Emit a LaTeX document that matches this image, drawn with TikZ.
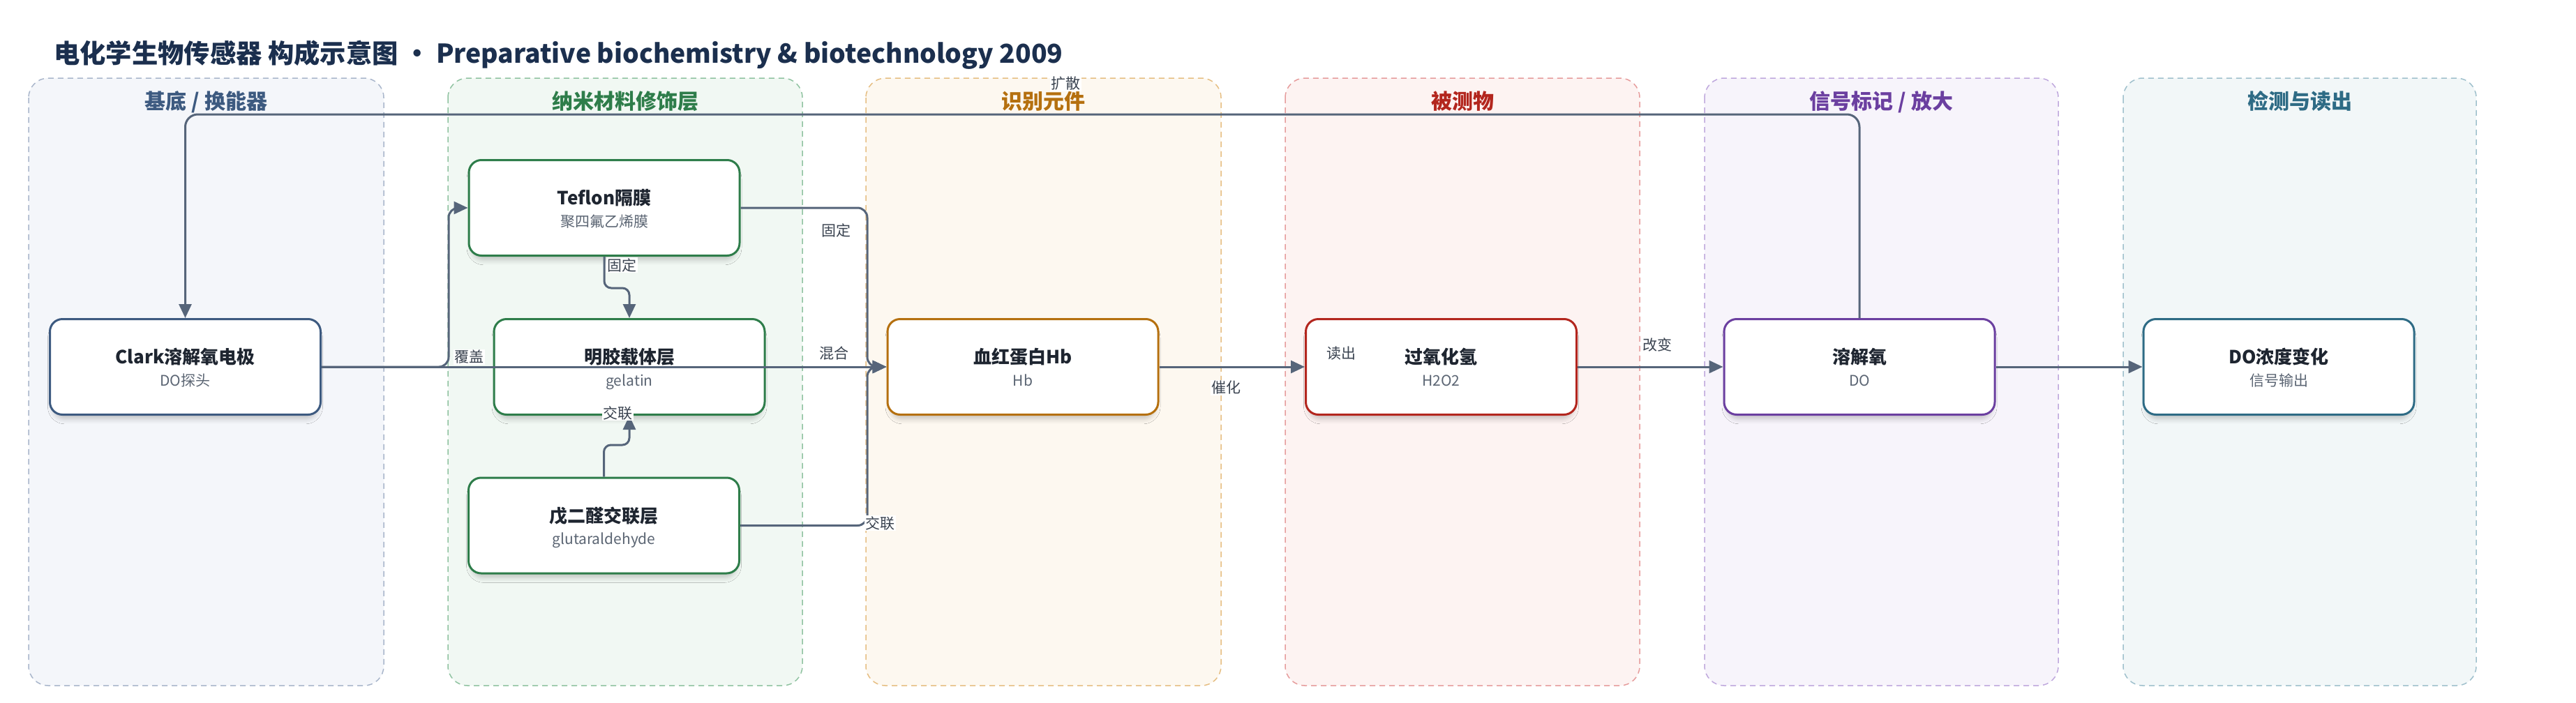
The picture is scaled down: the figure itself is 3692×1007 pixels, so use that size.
\documentclass[tikz,border=0pt]{standalone}
\usepackage{fontspec}
\setmainfont{Noto Sans CJK SC}
\usetikzlibrary{arrows.meta,shadows.blur,calc}
\definecolor{cTitle}{HTML}{1B2F4E}
\definecolor{cEdge}{HTML}{56657A}
\definecolor{cLbl}{HTML}{3A4350}
\definecolor{cNT}{HTML}{1E2530}
\definecolor{cNS}{HTML}{5B6573}
\definecolor{fA}{HTML}{F4F6FA}\definecolor{dA}{HTML}{A9B6CB}\definecolor{tA}{HTML}{3D5A80}
\definecolor{fB}{HTML}{F1F8F3}\definecolor{dB}{HTML}{90C3A1}\definecolor{tB}{HTML}{2E7D4A}
\definecolor{fC}{HTML}{FDF8F0}\definecolor{dC}{HTML}{E6BE82}\definecolor{tC}{HTML}{B5700F}
\definecolor{fD}{HTML}{FDF3F2}\definecolor{dD}{HTML}{E69C9C}\definecolor{tD}{HTML}{B3261E}
\definecolor{fE}{HTML}{F7F4FB}\definecolor{dE}{HTML}{BFA8DD}\definecolor{tE}{HTML}{6B3FA0}
\definecolor{fF}{HTML}{F2F7F8}\definecolor{dF}{HTML}{9FC0CC}\definecolor{tF}{HTML}{2E6B85}
\begin{document}
\begin{tikzpicture}[x=1pt,y=-1pt,
  lanebox/.style n args={2}{fill=#1, draw=#2, rounded corners=28pt, line width=1.5pt, dash pattern=on 8pt off 6pt},
  lanetitle/.style={anchor=base, text=#1, font=\fontsize{30}{36}\selectfont\bfseries, inner sep=0pt},
  box/.style={draw=#1, fill=white, line width=3pt, rounded corners=18pt, minimum width=388pt, minimum height=137pt, inner sep=0pt,
    blur shadow={shadow xshift=0pt, shadow yshift=-8pt, shadow blur radius=7pt, shadow opacity=20, shadow scale=0.98}},
  ntitle/.style={anchor=base, text=cNT, font=\fontsize{26}{30}\selectfont\bfseries, inner sep=0pt},
  nsub/.style={anchor=base, text=cNS, font=\fontsize{21}{25}\selectfont, inner sep=0pt},
  edge/.style={draw=cEdge, line width=3pt, -{Triangle[length=20pt,width=18pt]}},
  elabel/.style={fill=white, text=cLbl, font=\fontsize{21}{25}\selectfont, inner sep=1.5pt}]
\useasboundingbox (0,0) rectangle (3692,1007);
\fill[white] (0,0) rectangle (3692,1007);
% lanes
\path[lanebox={fA}{dA}] (41,112) rectangle (550,983);
\path[lanebox={fB}{dB}] (642,112) rectangle (1150,983);
\path[lanebox={fC}{dC}] (1241,112) rectangle (1750,983);
\path[lanebox={fD}{dD}] (1842,112) rectangle (2350,983);
\path[lanebox={fE}{dE}] (2443,112) rectangle (2950,983);
\path[lanebox={fF}{dF}] (3043,112) rectangle (3549,983);
\node[lanetitle=tA] (l1) at (295.5,156) {基底 / 换能器};
\node[lanetitle=tB] (l2) at (896,156) {纳米材料修饰层};
\node[lanetitle=tC] (l3) at (1495.5,156) {识别元件};
\node[lanetitle=tD] (l4) at (2096,156) {被测物};
\node[lanetitle=tE] (l5) at (2696.5,156) {信号标记 / 放大};
\node[lanetitle=tF] (l6) at (3296,156) {检测与读出};
% title
\node[anchor=base west, inner sep=0pt, text=cTitle, font=\fontsize{37.3}{44}\selectfont\bfseries] (title) at (77,90)
  {电化学生物传感器 构成示意图 · Preparative biochemistry \& biotechnology 2009};
% nodes
\newcommand\bxn[6]{%
  \node[box=#4] (#1) at (#2,#3) {};
  \node[ntitle] (#1t) at ($(#1)+(0,-4.5)$) {#5};
  \node[nsub] (#1s) at ($(#1)+(0,27)$) {#6};}
\bxn{clark}{265.5}{526}{tA}{Clark溶解氧电极}{DO探头}
\bxn{teflon}{866}{298}{tB}{Teflon隔膜}{聚四氟乙烯膜}
\bxn{gelatin}{902}{526}{tB}{明胶载体层}{gelatin}
\bxn{glut}{865.5}{753.5}{tB}{戊二醛交联层}{glutaraldehyde}
\bxn{hb}{1466}{526}{tC}{血红蛋白Hb}{Hb}
\bxn{hoo}{2065.5}{526}{tD}{过氧化氢}{H2O2}
\bxn{do}{2665}{526}{tE}{溶解氧}{DO}
\bxn{doc}{3266}{526}{tF}{DO浓度变化}{信号输出}
% coordinates
\coordinate (topR) at (2665,164);
\coordinate (topL) at (265.5,164);
\coordinate (b1) at (643,526);
\coordinate (b2) at (643,298);
\coordinate (j1) at (866,413);
\coordinate (j2) at (902,413);
\coordinate (j3) at (865.5,638);
\coordinate (j4) at (902,638);
\coordinate (c1) at (1243,298);
\coordinate (c2) at (1243,526);
\coordinate (c3) at (1243,753.5);
% edges
\draw[edge, rounded corners=18pt] (do.north) -- (topR) -- (topL) -- (clark.north);
\draw[edge, rounded corners=14pt] (clark.east) -- (b1) -- (b2) -- (teflon.west);
\draw[edge] (clark.east) -- (hb.west);
\draw[edge, rounded corners=10pt] (teflon.south) -- (j1) -- (j2) -- (gelatin.north);
\draw[edge, rounded corners=10pt] (glut.north) -- (j3) -- (j4) -- (gelatin.south);
\draw[edge, rounded corners=14pt] (teflon.east) -- (c1) -- (c2) -- (hb.west);
\draw[edge, rounded corners=14pt] (glut.east) -- (c3) -- (c2) -- (hb.west);
\draw[edge] (hb.east) -- (hoo.west);
\draw[edge] (hoo.east) -- (do.west);
\draw[edge] (do.east) -- (doc.west);
% edge labels
\node[elabel] (e1) at (1527,120) {扩散};
\node[elabel] (e2) at (672,512) {覆盖};
\node[elabel] (e3) at (891,380) {固定};
\node[elabel] (e4) at (1198,330) {固定};
\node[elabel] (e5) at (1195,507) {混合};
\node[elabel] (e6) at (885,592) {交联};
\node[elabel] (e7) at (1261,750) {交联};
\node[elabel] (e8) at (1757,556) {催化};
\node[elabel] (e9) at (1922,507) {读出};
\node[elabel] (e10) at (2375,494) {改变};
\end{tikzpicture}
\end{document}
